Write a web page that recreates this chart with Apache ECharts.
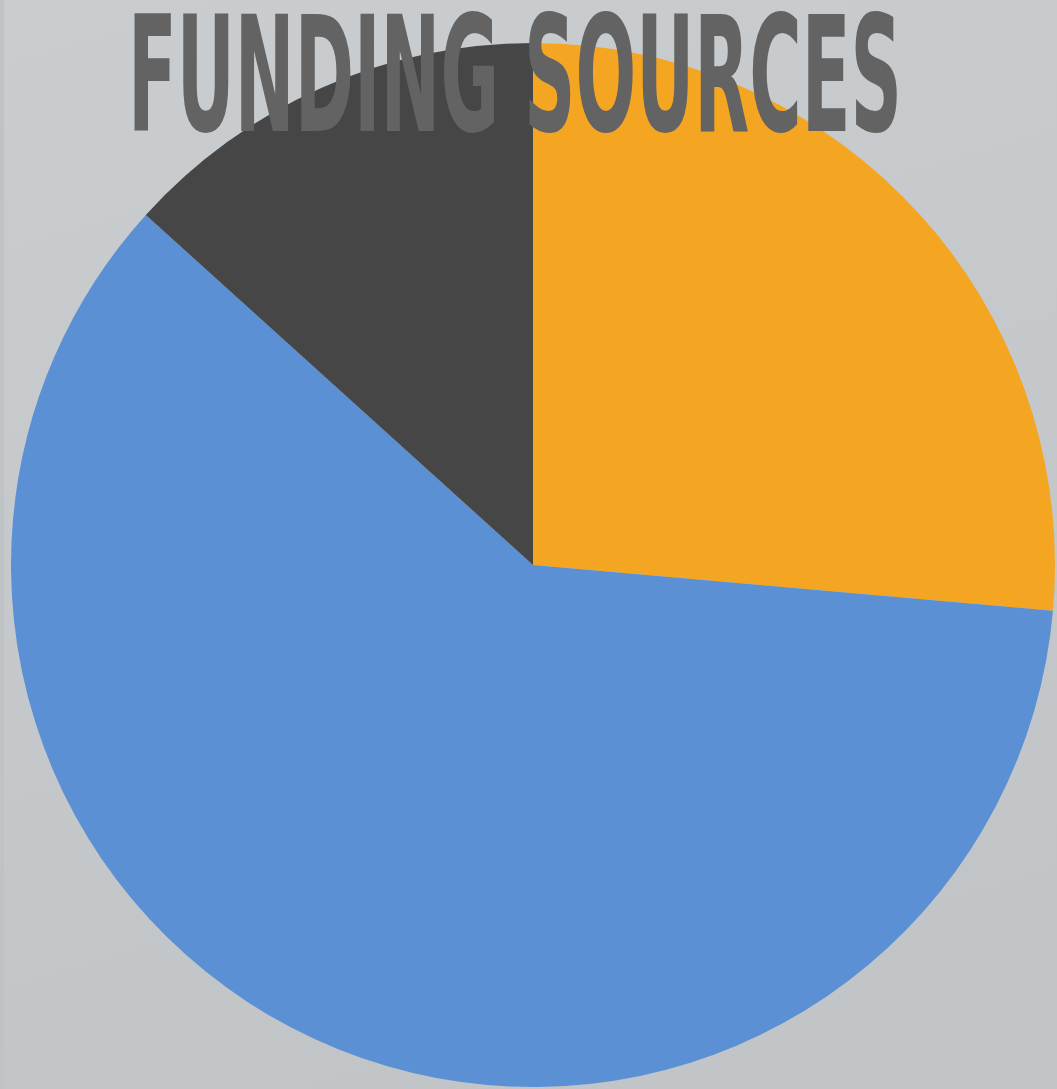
<!DOCTYPE html>
<html>
<head>
<meta charset="utf-8">
<style>
html,body{margin:0;padding:0;width:1057px;height:1089px;overflow:hidden;background:#c6cacd;}
#chart{width:1057px;height:1089px;}
</style>
<script src="https://cdn.jsdelivr.net/npm/echarts@6/dist/echarts.min.js"></script>
</head>
<body>
<div id="chart"></div>
<script>
const titleText = "FUNDING SOURCES";
const categories = ["Source A", "Source B", "Source C"];
const values = [26.4, 60.3, 13.3];
const colors = ["#f4a623", "#5b91d4", "#464646"];

const titleFont = 'bold 160px "Liberation Sans Narrow", "DejaVu Sans Condensed", "Liberation Sans", sans-serif';
const targetWidth = 774;
const cv = document.createElement('canvas').getContext('2d');
cv.font = titleFont;
const measured = cv.measureText(titleText).width || targetWidth;
const sx = targetWidth / measured;

const chart = echarts.init(document.getElementById('chart'), null, {renderer: 'canvas'});
chart.setOption({
  animation: false,
  backgroundColor: {
    type: 'linear', x: 0, y: 0, x2: 0.3, y2: 1,
    colorStops: [{offset: 0, color: '#c9cdd0'}, {offset: 1, color: '#c1c5c8'}]
  },
  series: [{
    type: 'pie',
    center: [533, 565],
    radius: 522,
    startAngle: 90,
    clockwise: true,
    label: {show: false},
    labelLine: {show: false},
    emphasis: {disabled: true},
    itemStyle: {borderWidth: 0},
    data: categories.map((c, i) => ({name: c, value: values[i], itemStyle: {color: colors[i]}}))
  }],
  graphic: [
    {type: 'rect', left: 0, top: 0, z: 1, shape: {width: 4, height: 1089}, style: {fill: '#bfc3c6'}},
    {
      type: 'text', z: 100, x: 128, y: 89, scaleX: sx, scaleY: 1,
      style: {x: 0, y: 0, text: titleText, font: titleFont, fill: '#636363', textAlign: 'left', textVerticalAlign: 'middle'}
    }
  ]
});
</script>
</body>
</html>
